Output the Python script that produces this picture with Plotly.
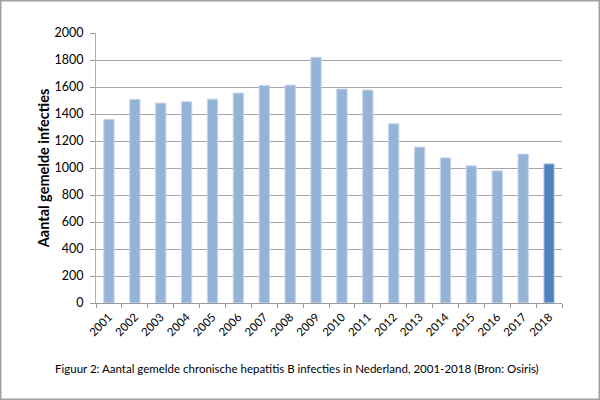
import plotly.graph_objects as go

years = [str(y) for y in range(2001, 2019)]
values = [1360, 1508, 1481, 1491, 1510, 1555, 1612, 1614, 1820,
          1585, 1577, 1328, 1155, 1075, 1016, 979, 1103, 1031]
colors = ["#95B3D7"] * 17 + ["#4F81BD"]
y_ticks = list(range(0, 2001, 200))
y_title = "Aantal gemelde infecties"
caption = "Figuur 2: Aantal gemelde chronische hepatitis B infecties in Nederland, 2001-2018 (Bron: Osiris)"

W, H = 600, 400
ml, mr, mt, mb = 96, 38, 33, 97
pw, ph = W - ml - mr, H - mt - mb

fig = go.Figure(go.Bar(
    x=years, y=values,
    marker=dict(color=colors, line=dict(color="#C6D7EC", width=1)),
))

fig.update_layout(
    width=W, height=H,
    margin=dict(l=ml, r=mr, t=mt, b=mb, autoexpand=False),
    paper_bgcolor="white", plot_bgcolor="white",
    bargap=0.6,
    showlegend=False,
    font=dict(family="Lato, Open Sans, sans-serif", color="#000"),
)
fig.update_xaxes(
    type="category", tickangle=-45, tickfont=dict(size=11.5),
    showline=True, linecolor="#9a9a9a", linewidth=1,
    ticks="outside", tickson="boundaries", ticklen=4, tickcolor="#9a9a9a",
    showgrid=False, automargin=False, ticklabelstandoff=2,
)
fig.update_yaxes(
    range=[0, 2000], tickvals=y_ticks, tickfont=dict(size=12.5),
    showline=True, linecolor="#b0b0b0", linewidth=1,
    ticks="outside", ticklen=5, tickcolor="#9a9a9a",
    showgrid=True, gridcolor="#a6a6a6", gridwidth=1,
    zeroline=False, automargin=False, ticklabelstandoff=4,
    title=dict(text="<b>" + y_title + "</b>", font=dict(size=14.5), standoff=1),
)
fig.add_annotation(
    text=caption, xref="paper", yref="paper",
    x=(297 - ml) / pw, y=-(368 - (mt + ph)) / ph,
    xanchor="center", yanchor="middle", showarrow=False,
    font=dict(size=11.5, family="Lato, Open Sans, sans-serif"),
)
# outer frame around the whole figure
fig.add_shape(
    type="rect", xref="paper", yref="paper",
    x0=(-ml + 0.75) / pw, x1=(pw + mr - 0.75) / pw,
    y0=-(mb - 0.75) / ph, y1=(ph + mt - 0.75) / ph,
    line=dict(color="#a0a0a0", width=1.5), layer="below",
)

fig.write_html(
    "out.html",
    config={"displayModeBar": False},
    post_script="document.body.style.margin='0';document.body.style.overflow='hidden';",
)
